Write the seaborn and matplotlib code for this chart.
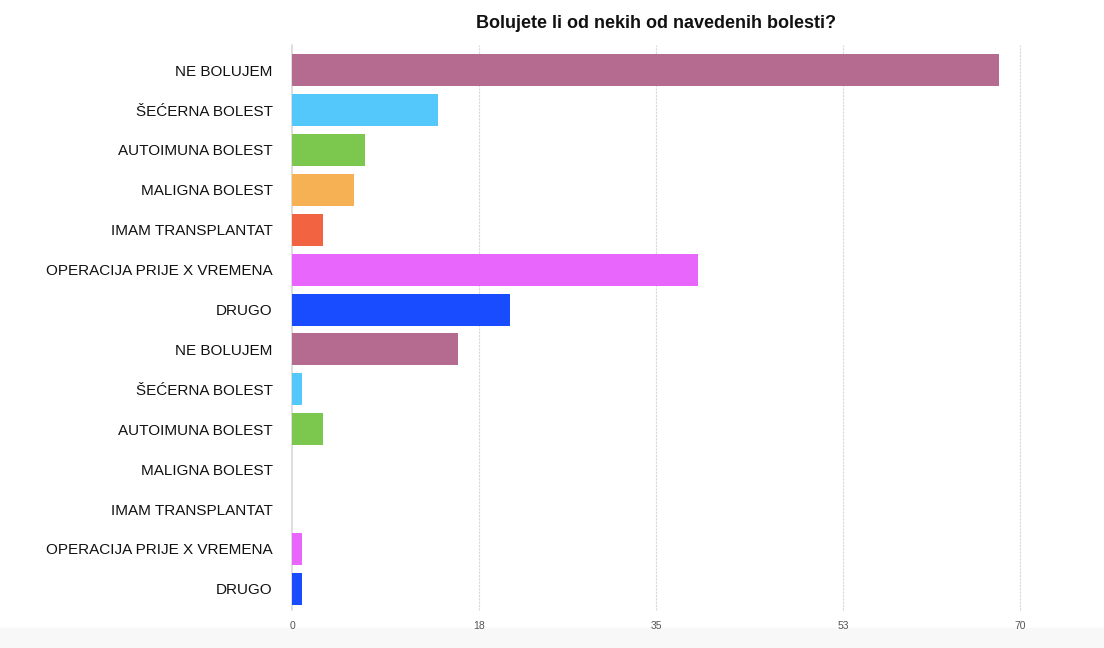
import pandas as pd
import numpy as np
import matplotlib
matplotlib.use("Agg")
import matplotlib.pyplot as plt
import seaborn as sns

# ===== Data =====
labels = ["NE BOLUJEM", "ŠEĆERNA BOLEST", "AUTOIMUNA BOLEST", "MALIGNA BOLEST",
          "IMAM TRANSPLANTAT", "OPERACIJA PRIJE X VREMENA", "DRUGO"] * 2
values = [68, 14, 7, 6, 3, 39, 21,
          16, 1, 3, 0, 0, 1, 1]
colors = ["#b56b8f", "#55c8fb", "#7cc84f", "#f6b155", "#f16341", "#e866fb", "#1a4cff"] * 2
xticks = [0, 18, 35, 53, 70]

df = pd.DataFrame({"key": [f"{i}_{l}" for i, l in enumerate(labels)],
                   "label": labels, "value": values})

sns.set_style("white")
plt.rcParams['font.family'] = ['Liberation Sans', 'DejaVu Sans']

fig = plt.figure(figsize=(11.04, 6.48), dpi=100)
ax = fig.add_axes([292/1104, 1-610/648, (1020-292)/1104, (610-45)/648])

sns.barplot(data=df, y="key", x="value", hue="key", palette=colors, legend=False,
            orient="h", width=0.8, ax=ax, saturation=1, edgecolor="none")

ax.set_xlim(0, 70)
ax.set_ylim(13.53, -0.63)
ax.set_xticks(xticks)
ax.set_xticklabels([str(t) for t in xticks], fontsize=7.5, color="#555555")
ax.set_yticks(range(len(labels)))
ax.set_yticklabels(labels, fontsize=11, color="#111111")
ax.tick_params(axis="both", length=0)
ax.tick_params(axis="y", pad=14)
ax.tick_params(axis="x", pad=8)
ax.set_xlabel("")
ax.set_ylabel("")
for s in ax.spines.values():
    s.set_visible(False)
ax.axvline(0, color="#d8d8d8", lw=1.2, zorder=0, clip_on=False)
for t in xticks[1:]:
    ax.axvline(t, color="#d8d8d8", lw=0.8, ls=(0, (2, 1)), zorder=0, clip_on=False)

fig.text(656/1104, 1-23/648, "Bolujete li od nekih od navedenih bolesti?",
         ha="center", va="center", fontsize=13, fontweight="bold", color="#111111")

# light band at the bottom
fig.patches.append(plt.Rectangle((0, 0), 1, 20/648, transform=fig.transFigure,
                                 color="#f8f8f8", zorder=-1))

fig.savefig("out.png", dpi=100)
